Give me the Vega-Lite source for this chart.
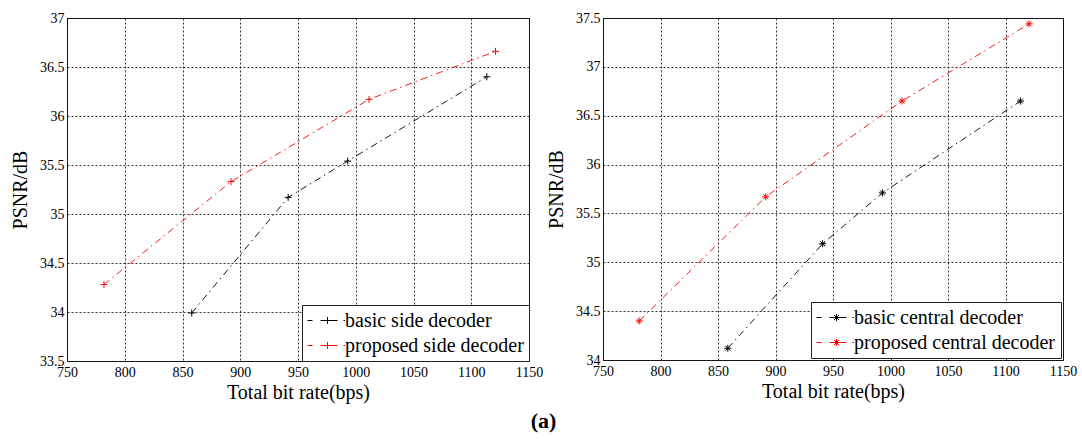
{
  "$schema": "https://vega.github.io/schema/vega-lite/v6.json",
  "autosize": {"type": "pad"},
  "padding": {"left": 10, "top": 10, "right": 5, "bottom": 2},
  "background": "white",
  "bounds": "flush",
  "spacing": 74,
  "title": {"text": "(a)", "orient": "bottom", "anchor": "middle", "font": "Liberation Serif", "fontSize": 22, "fontWeight": "bold", "color": "black", "offset": 8},
  "resolve": {"scale": {"color": "independent", "x": "independent", "y": "independent"}, "legend": {"color": "independent"}},
  "config": {
    "font": "Liberation Serif",
    "title": {"font": "Liberation Serif", "fontSize": 22},
    "view": {"stroke": "#222", "strokeWidth": 1},
    "axis": {
      "labelFont": "Liberation Serif", "labelFontSize": 14, "labelColor": "black",
      "titleFont": "Liberation Serif", "titleFontSize": 20, "titleFontWeight": "normal", "titleColor": "black",
      "grid": true, "gridColor": "black", "gridDash": [2, 2], "gridWidth": 0.8, "gridOpacity": 1,
      "domain": false, "ticks": false, "labelFlush": false, "labelOverlap": false
    },
    "legend": {
      "labelFont": "Liberation Serif", "labelFontSize": 20, "labelColor": "black", "labelLimit": 500,
      "strokeColor": "#222", "fillColor": "white", "padding": 5, "offset": 0,
      "cornerRadius": 0, "rowPadding": 4, "labelOffset": 17, "symbolSize": 400,
      "symbolStrokeWidth": 1, "symbolFillColor": "transparent", "orient": "bottom-right"
    }
  },
  "hconcat": [
    {
      "width": 462,
      "height": 343,
      "data": {"values": [
        {"rate": 858, "psnr": 33.99, "series": "basic side decoder"},
        {"rate": 941.5, "psnr": 35.17, "series": "basic side decoder"},
        {"rate": 993, "psnr": 35.54, "series": "basic side decoder"},
        {"rate": 1113.5, "psnr": 36.4, "series": "basic side decoder"},
        {"rate": 782, "psnr": 34.28, "series": "proposed side decoder"},
        {"rate": 892, "psnr": 35.33, "series": "proposed side decoder"},
        {"rate": 1011.5, "psnr": 36.17, "series": "proposed side decoder"},
        {"rate": 1121, "psnr": 36.66, "series": "proposed side decoder"}
      ]},
      "mark": {
        "type": "line", "strokeDash": [7, 4, 1.5, 4], "strokeWidth": 0.9,
        "point": {"shape": "M-1,0L1,0M0,-1L0,1", "filled": false, "size": 49, "strokeWidth": 1}
      },
      "encoding": {
        "x": {"field": "rate", "type": "quantitative", "scale": {"domain": [750, 1150], "nice": false, "zero": false},
              "axis": {"title": "Total bit rate(bps)", "values": [750, 800, 850, 900, 950, 1000, 1050, 1100, 1150], "format": "d", "labelPadding": 4, "titlePadding": 3}},
        "y": {"field": "psnr", "type": "quantitative", "scale": {"domain": [33.5, 37], "nice": false, "zero": false},
              "axis": {"title": "PSNR/dB", "values": [33.5, 34, 34.5, 35, 35.5, 36, 36.5, 37], "format": "~f", "labelPadding": 3, "titlePadding": 9}},
        "color": {"field": "series", "type": "nominal",
                  "scale": {"domain": ["basic side decoder", "proposed side decoder"], "range": ["black", "red"]},
                  "legend": {"title": null, "symbolType": "M-1,0L-0.5,0M0.3,0L2,0M1,-0.35L1,0.35M2.6,0L2.75,0"}}
      }
    },
    {
      "width": 460,
      "height": 342,
      "data": {"values": [
        {"rate": 858.5, "psnr": 34.12, "series": "basic central decoder"},
        {"rate": 941, "psnr": 35.19, "series": "basic central decoder"},
        {"rate": 993, "psnr": 35.71, "series": "basic central decoder"},
        {"rate": 1113, "psnr": 36.65, "series": "basic central decoder"},
        {"rate": 781.5, "psnr": 34.4, "series": "proposed central decoder"},
        {"rate": 891.5, "psnr": 35.67, "series": "proposed central decoder"},
        {"rate": 1010, "psnr": 36.65, "series": "proposed central decoder"},
        {"rate": 1120.5, "psnr": 37.44, "series": "proposed central decoder"}
      ]},
      "mark": {
        "type": "line", "strokeDash": [7, 4, 1.5, 4], "strokeWidth": 0.9,
        "point": {"shape": "M-1,0L1,0M0,-1L0,1M-0.7,-0.7L0.7,0.7M-0.7,0.7L0.7,-0.7", "filled": false, "size": 49, "strokeWidth": 1}
      },
      "encoding": {
        "x": {"field": "rate", "type": "quantitative", "scale": {"domain": [750, 1150], "nice": false, "zero": false},
              "axis": {"title": "Total bit rate(bps)", "values": [750, 800, 850, 900, 950, 1000, 1050, 1100, 1150], "format": "d", "labelPadding": 4, "titlePadding": 3}},
        "y": {"field": "psnr", "type": "quantitative", "scale": {"domain": [34, 37.5], "nice": false, "zero": false},
              "axis": {"title": "PSNR/dB", "values": [34, 34.5, 35, 35.5, 36, 36.5, 37, 37.5], "format": "~f", "labelPadding": 3, "titlePadding": 9}},
        "color": {"field": "series", "type": "nominal",
                  "scale": {"domain": ["basic central decoder", "proposed central decoder"], "range": ["black", "red"]},
                  "legend": {"title": null, "offset": 2, "symbolType": "M-1,0L-0.5,0M0.3,0L2,0M1,-0.35L1,0.35M0.75,-0.25L1.25,0.25M0.75,0.25L1.25,-0.25M2.6,0L2.75,0"}}
      }
    }
  ]
}
